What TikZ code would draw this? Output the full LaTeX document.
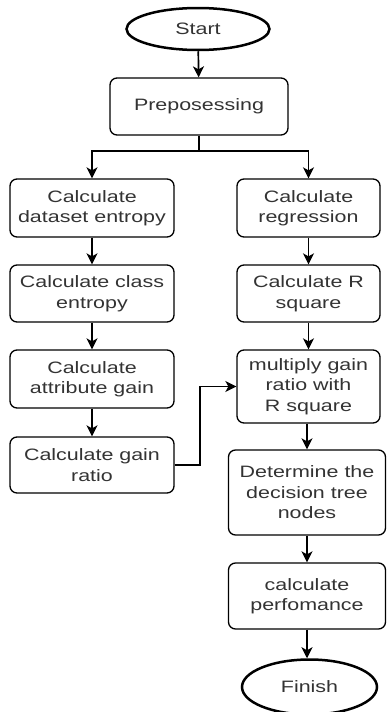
\documentclass[tikz,border=0pt]{standalone}
\usepackage{fontspec}
\setmainfont{Liberation Sans}[FakeStretch=1.3]
\usetikzlibrary{arrows.meta,shapes.geometric}
\definecolor{txt}{HTML}{333333}
\begin{document}
\begin{tikzpicture}[x=1pt,y=-1pt,
  box/.style={draw, rounded corners=7pt, line width=1.3pt, inner sep=0pt, align=center, text=txt, font=\fontsize{16.5}{20.5}\selectfont},
  term/.style={ellipse, draw, line width=2.5pt, inner sep=0pt, text=txt, font=\fontsize{16.5}{20.5}\selectfont},
  arr/.style={-{Stealth[length=11pt,width=11pt,inset=3pt]}, line width=1.7pt},
  ln/.style={line width=1.7pt}]
\useasboundingbox (0,0) rectangle (386,712);
\node[term, minimum width=143, minimum height=42] (start) at (198,29) {Start};
\node[box, minimum width=178, minimum height=57] (prep) at (199,106.5) {Preposessing};
\node[box, minimum width=164, minimum height=58] (L1) at (92,208) {Calculate\\dataset entropy};
\node[box, minimum width=164, minimum height=57] (L2) at (92,293.5) {Calculate class\\entropy};
\node[box, minimum width=164, minimum height=58] (L3) at (92,379) {Calculate\\attribute gain};
\node[box, minimum width=164, minimum height=56] (L4) at (92,465) {Calculate gain\\ratio};
\node[box, minimum width=143, minimum height=58] (R1) at (308.5,208) {Calculate\\regression};
\node[box, minimum width=143, minimum height=57] (R2) at (308.5,293.5) {Calculate R\\square};
\node[box, minimum width=143, minimum height=73] (R3) at (308.5,386.5) {multiply gain\\ratio with\\R square};
\node[box, minimum width=157, minimum height=85] (R4) at (307,492.5) {Determine the\\decision tree\\nodes};
\node[box, minimum width=157, minimum height=66] (R5) at (307,596) {calculate\\perfomance};
\node[term, minimum width=135, minimum height=55] (fin) at (309.5,687) {Finish};
\coordinate (split) at (199,151);
\coordinate (kx) at (200,0);
\draw[arr] (start) -- (prep);
\draw[ln] (prep.south) -- (split);
\draw[arr] (split) -| (L1.north);
\draw[arr] (split) -| (R1.north);
\draw[arr] (L1) -- (L2);
\draw[arr] (L2) -- (L3);
\draw[arr] (L3) -- (L4);
\draw[arr] (R1) -- (R2);
\draw[arr] (R2) -- (R3);
\draw[arr] (R3.south -| R4.north) -- (R4.north);
\draw[arr] (R4) -- (R5);
\draw[arr] (R5.south) -- (R5.south |- fin.north);
\draw[arr] (L4.east) -- (L4.east -| kx) -- (kx |- R3.west) -- (R3.west);
\end{tikzpicture}
\end{document}
